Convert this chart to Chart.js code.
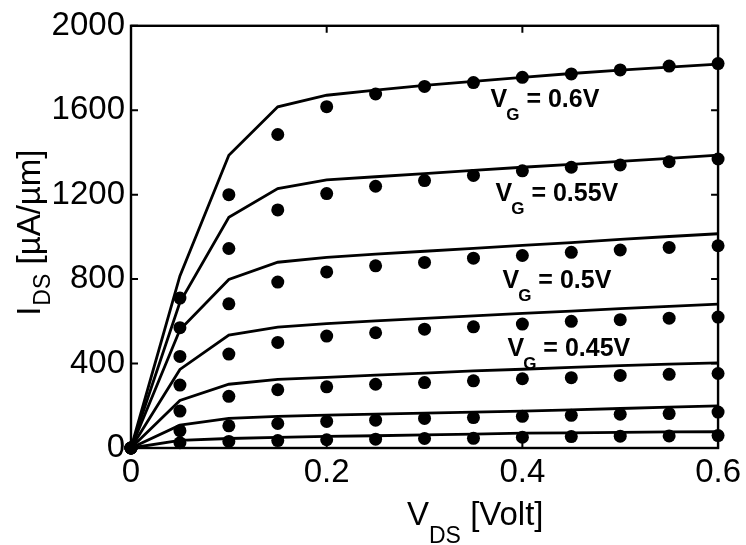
<!DOCTYPE html>
<html>
<head>
<meta charset="utf-8">
<script src="https://cdn.jsdelivr.net/npm/chart.js@4.4.1/dist/chart.umd.min.js"></script>
<style>
html,body{margin:0;padding:0;background:#fff;}
#wrap{position:relative;width:746px;height:545px;}
</style>
</head>
<body>
<div id="wrap"><canvas id="c" width="746" height="545"></canvas></div>
<script>
// ---- data ----
const vds = [0, 0.05, 0.1, 0.15, 0.2, 0.25, 0.3, 0.35, 0.4, 0.45, 0.5, 0.55, 0.6];

// simulated curves (solid lines), I_DS in uA/um
const simVg060 = [0, 815, 1387, 1616, 1671, 1695, 1718, 1737, 1756, 1774, 1790, 1804, 1818];
const simVg055 = [0, 690, 1093, 1229, 1270, 1285, 1300, 1315, 1330, 1344, 1358, 1372, 1387];
const simVg050 = [0, 560, 798, 880, 903, 918, 932, 946, 960, 973, 988, 1002, 1015];
const simVg045 = [0, 372, 535, 573, 589, 602, 614, 626, 638, 648, 660, 671, 682];
const simVg040 = [0, 225, 302, 325, 335, 345, 355, 365, 373, 382, 390, 397, 403];
const simVg035 = [0, 108, 140, 150, 156, 160, 165, 170, 175, 181, 187, 194, 200];
const simVg030 = [0, 36, 45, 50, 55, 58, 62, 66, 70, 72, 74, 76, 77];

// measured points (filled dots)
const measVg060 = [0, 710, 1200, 1485, 1617, 1677, 1713, 1731, 1756, 1772, 1791, 1809, 1821];
const measVg055 = [0, 570, 945, 1128, 1205, 1240, 1267, 1291, 1313, 1330, 1341, 1356, 1369];
const measVg050 = [0, 434, 683, 786, 834, 863, 879, 899, 912, 927, 938, 950, 958];
const measVg045 = [0, 298, 445, 500, 530, 546, 563, 574, 587, 600, 608, 615, 620];
const measVg040 = [0, 175, 245, 276, 290, 302, 310, 318, 328, 333, 344, 349, 353];
const measVg035 = [0, 82, 105, 116, 126, 132, 140, 144, 150, 155, 160, 163, 170];
const measVg030 = [0, 25, 31, 35, 39, 42, 45, 46, 51, 54, 56, 57, 59];

const gateNames = ['0.6V', '0.55V', '0.5V', '0.45V', '0.4V', '0.35V', '0.3V'];
const xTicks = [0, 0.2, 0.4, 0.6];
const xTickLabels = ['0', '0.2', '0.4', '0.6'];
const yTicks = [0, 400, 800, 1200, 1600, 2000];
const yTickLabels = ['0', '400', '800', '1200', '1600', '2000'];

// curve labels shown on the plot
const annotTexts = ['0.6V', '0.55V', '0.5V', '0.45V'];
const annotAt = [
  {x: 0.3675, y: 1615},
  {x: 0.3726, y: 1169},
  {x: 0.3797, y: 760},
  {x: 0.3848, y: 434}
];

// ---- build datasets ----
const simSeries = [simVg060, simVg055, simVg050, simVg045, simVg040, simVg035, simVg030];
const measSeries = [measVg060, measVg055, measVg050, measVg045, measVg040, measVg035, measVg030];
const toXY = arr => arr.map((v, i) => ({x: vds[i], y: v}));

const datasets = [];
simSeries.forEach((s, k) => datasets.push({
  type: 'line', label: 'sim VG=' + gateNames[k], data: toXY(s),
  borderColor: '#000', borderWidth: 2.8, pointRadius: 0, tension: 0, fill: false, clip: false
}));
measSeries.forEach((s, k) => datasets.push({
  type: 'scatter', label: 'meas VG=' + gateNames[k], data: toXY(s),
  backgroundColor: '#000', borderColor: '#000', borderWidth: 0, pointRadius: 6.5, showLine: false, clip: false
}));

const FONT = "'Liberation Sans', Arial, Helvetica, sans-serif";

const decor = {
  id: 'decor',
  afterDraw(chart) {
    const ctx = chart.ctx, a = chart.chartArea;
    const xs = chart.scales.x, ys = chart.scales.y;
    ctx.save();
    ctx.strokeStyle = '#000';
    ctx.fillStyle = '#000';
    // box
    ctx.lineWidth = 2.4;
    ctx.strokeRect(a.left, a.top, a.right - a.left, a.bottom - a.top);
    // inward ticks
    ctx.lineWidth = 2;
    const tl = 7;
    ctx.beginPath();
    xTicks.forEach(v => {
      const px = xs.getPixelForValue(v);
      ctx.moveTo(px, a.bottom); ctx.lineTo(px, a.bottom - tl);
      ctx.moveTo(px, a.top); ctx.lineTo(px, a.top + tl);
    });
    yTicks.forEach(v => {
      const py = ys.getPixelForValue(v);
      ctx.moveTo(a.left, py); ctx.lineTo(a.left + tl, py);
      ctx.moveTo(a.right, py); ctx.lineTo(a.right - tl, py);
    });
    ctx.stroke();

    // x-axis title: V_DS [Volt]
    ctx.textAlign = 'left';
    ctx.textBaseline = 'alphabetic';
    let x = a.left + 276, base = a.bottom + 77;
    ctx.font = '33px ' + FONT;
    ctx.fillText('V', x, base);
    x += ctx.measureText('V').width;
    ctx.font = '23px ' + FONT;
    ctx.fillText('DS', x, base + 18);
    x += ctx.measureText('DS').width;
    ctx.font = '33px ' + FONT;
    ctx.fillText(' [Volt]', x, base);

    // y-axis title: I_DS [µA/µm]  (rotated)
    ctx.save();
    ctx.translate(40, a.top + 290);
    ctx.rotate(-Math.PI / 2);
    let t = 0;
    ctx.font = '33px ' + FONT;
    ctx.fillText('I', t, 0);
    t += ctx.measureText('I').width;
    ctx.font = '23px ' + FONT;
    ctx.fillText('DS', t + 1, 10);
    t += ctx.measureText('DS').width + 1;
    ctx.font = '33px ' + FONT;
    ctx.fillText(' [\u00B5A/\u00B5m]', t, 0);
    ctx.restore();

    // curve annotations V_G = ...
    annotAt.forEach((p, k) => {
      let ax = xs.getPixelForValue(p.x), ay = ys.getPixelForValue(p.y);
      ctx.font = 'bold 25px ' + FONT;
      ctx.fillText('V', ax, ay);
      ax += ctx.measureText('V').width - 1;
      ctx.font = 'bold 17px ' + FONT;
      ctx.fillText('G', ax, ay + 13);
      ax += ctx.measureText('G').width;
      ctx.font = 'bold 25px ' + FONT;
      ctx.fillText(' = ' + annotTexts[k], ax, ay);
    });
    ctx.restore();
  }
};

Chart.defaults.font.family = FONT;
Chart.defaults.color = '#000';

new Chart(document.getElementById('c'), {
  type: 'scatter',
  data: {datasets},
  options: {
    responsive: false,
    devicePixelRatio: 1,
    animation: false,
    layout: {padding: {top: 18, right: 24, left: 0, bottom: 0}},
    plugins: {legend: {display: false}, tooltip: {enabled: false}, title: {display: false}},
    scales: {
      x: {
        type: 'linear', min: 0, max: 0.6,
        grid: {display: false, drawTicks: false},
        border: {display: false},
        afterBuildTicks: s => { s.ticks = xTicks.map(v => ({value: v})); },
        afterFit: s => { s.height = 97; },
        ticks: {
          font: {size: 33}, color: '#000', padding: 5, maxRotation: 0, autoSkip: false,
          callback: (v, i) => xTickLabels[i]
        }
      },
      y: {
        type: 'linear', min: 0, max: 2000,
        grid: {display: false, drawTicks: false},
        border: {display: false},
        afterBuildTicks: s => { s.ticks = yTicks.map(v => ({value: v})); },
        afterFit: s => { s.width = 131; },
        ticks: {
          font: {size: 33}, color: '#000', padding: 6, autoSkip: false,
          callback: (v, i) => yTickLabels[i]
        }
      }
    }
  },
  plugins: [decor]
});
</script>
</body>
</html>
